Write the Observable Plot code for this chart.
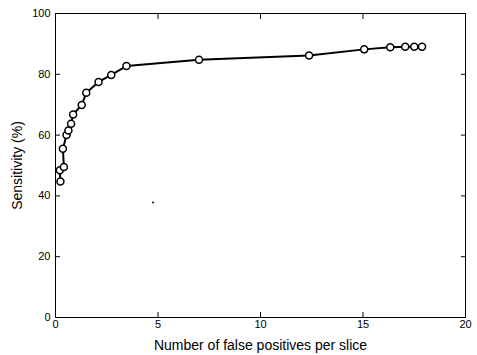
<!DOCTYPE html>
<html>
<head>
<meta charset="utf-8">
<script src="https://cdn.jsdelivr.net/npm/d3@7"></script>
<script src="https://cdn.jsdelivr.net/npm/@observablehq/plot@0.6"></script>
<style>
  html, body { margin: 0; padding: 0; background: #fff; }
  svg { display: block; }
</style>
</head>
<body>
<div id="chart"></div>
<script>
const falsePositives = [0.24, 0.21, 0.41, 0.36, 0.54, 0.63, 0.76, 0.86, 1.28, 1.50, 2.10, 2.72, 3.46, 7.0, 12.37, 15.06, 16.33, 17.06, 17.5, 17.88];
const sensitivity    = [44.7, 48.4, 49.5, 55.5, 60.0, 61.5, 63.7, 66.8, 69.9, 73.9, 77.5, 79.8, 82.7, 84.8, 86.2, 88.2, 88.9, 89.1, 89.1, 89.1];
const xTicks = [0, 5, 10, 15, 20];
const yTicks = [0, 20, 40, 60, 80, 100];
const strayX = [4.76];
const strayY = [37.8];

const data = falsePositives.map((x, i) => ({x, y: sensitivity[i]}));
const stray = strayX.map((x, i) => ({x, y: strayY[i]}));

const font = "Liberation Sans, Arial, sans-serif";

const chart = Plot.plot({
  width: 477,
  height: 355,
  marginLeft: 55,
  marginRight: 12,
  marginTop: 13,
  marginBottom: 38,
  style: {fontFamily: font, fontSize: "11px", color: "#000", background: "#fff"},
  x: {domain: [0, 20]},
  y: {domain: [0, 100]},
  marks: [
    Plot.frame({stroke: "#000", strokeWidth: 1}),
    Plot.axisX(xTicks, {anchor: "bottom", tickSize: -5, tickPadding: 8, label: "Number of false positives per slice", labelAnchor: "center", labelArrow: "none", labelOffset: 32, fontSize: 11}),
    Plot.axisX(xTicks, {anchor: "top", tickSize: -5, tickFormat: () => "", label: null}),
    Plot.axisY(yTicks, {anchor: "left", tickSize: -5, tickPadding: 10, label: "Sensitivity (%)", labelAnchor: "center", labelArrow: "none", labelOffset: 43, fontSize: 11}),
    Plot.axisY(yTicks, {anchor: "right", tickSize: -5, tickFormat: () => "", label: null}),
    Plot.line(data, {x: "x", y: "y", stroke: "#000", strokeWidth: 2}),
    Plot.dot(data, {x: "x", y: "y", r: 3.5, stroke: "#000", strokeWidth: 1.5, fill: "#fff"}),
    Plot.dot(stray, {x: "x", y: "y", r: 1, fill: "#000"})
  ]
});

document.getElementById("chart").appendChild(chart);
// enlarge axis titles
chart.querySelectorAll("g[aria-label='x-axis label'] text, g[aria-label='y-axis label'] text").forEach(t => t.setAttribute("font-size", "14"));
</script>
</body>
</html>
